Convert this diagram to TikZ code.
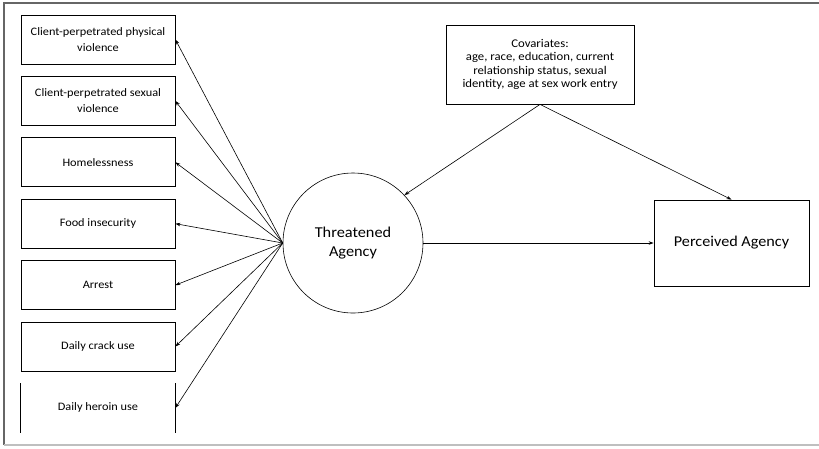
\documentclass[tikz,border=0pt]{standalone}
\usepackage{fontspec}
\setmainfont{Carlito}[FakeStretch=1.08]
\usetikzlibrary{arrows.meta}

\begin{document}
\begin{tikzpicture}[x=1pt,y=-1pt,
  indbox/.style={draw=black, line width=0.8pt, minimum width=154pt, minimum height=49pt, align=center, font=\fontsize{11.4}{16}\selectfont},
  latent/.style={draw=black, line width=0.6pt, circle, minimum size=140pt, align=center, font=\fontsize{15.1}{19}\selectfont},
  outbox/.style={draw=black, line width=0.8pt, minimum width=155pt, minimum height=86pt, font=\fontsize{15}{18}\selectfont},
  covbox/.style={draw=black, line width=0.8pt, minimum width=188pt, minimum height=79pt, align=center, font=\fontsize{11.8}{13.2}\selectfont},
  path/.style={draw=black, line width=0.6pt, -{Stealth[length=5pt,width=3.5pt]}}]
\useasboundingbox (0,0) rectangle (819,448);
\draw[gray!80!black, line width=1.4pt] (819,3) -- (4,3) -- (4,445);
\draw[gray!50, line width=1.2pt] (4,445) -- (819,445);

% indicators
\node[indbox] (h1) at (98,39.5) {Client-perpetrated physical\\violence};
\node[indbox] (h2) at (98,100.9) {Client-perpetrated sexual\\violence};
\node[indbox] (h3) at (98,162.3) {Homelessness};
\node[indbox] (h4) at (98,223.7) {Food insecurity};
\node[indbox] (h5) at (98,285.1) {Arrest};
\node[indbox] (h6) at (98,346.5) {Daily crack use};
\node[indbox, draw=none] (h7) at (98,407.9) {Daily heroin use};
\draw[line width=0.8pt] (h7.north west) -- (h7.south west) (h7.north east) -- (h7.south east);

\node[latent] (thr) at (353,243) {Threatened\\Agency};
\node[outbox] (perc) at (731.5,243) {Perceived Agency};
\node[covbox] (cov) at (540,64.5) {Covariates:\\age, race, education, current\\relationship status, sexual\\identity, age at sex work entry};

\foreach \i in {1,...,7}
  \draw[path] (thr.west) -- (h\i.east);
\draw[path] (thr.east) -- (perc.west);
\draw[path] (cov.south) -- (thr.43);
\draw[path] (cov.south) -- (perc.north);
\end{tikzpicture}
\end{document}
